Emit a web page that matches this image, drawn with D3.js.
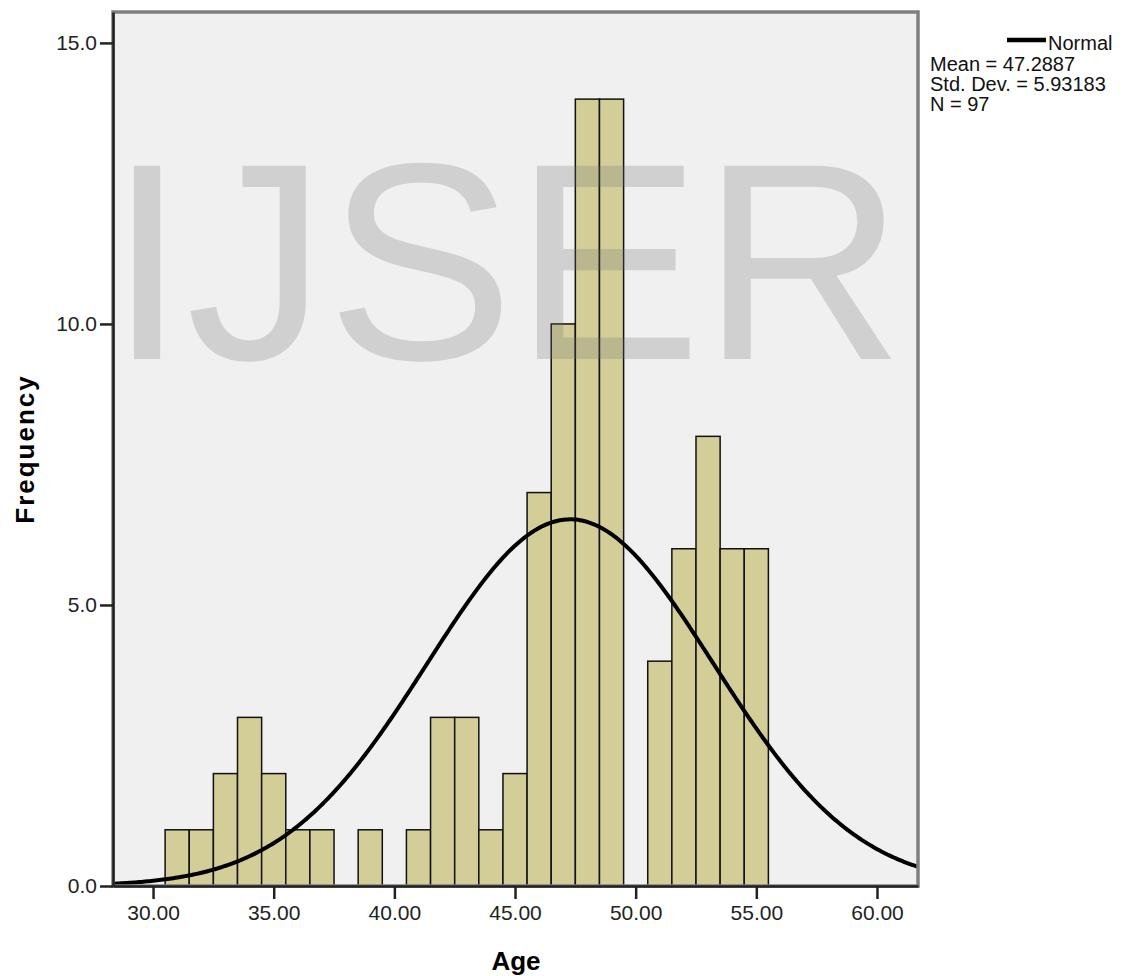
<!DOCTYPE html>
<html>
<head>
<meta charset="utf-8">
<script src="https://cdn.jsdelivr.net/npm/d3@7"></script>
<style>
  body { margin: 0; background: #fff; }
  svg text { font-family: "Liberation Sans", Arial, sans-serif; }
</style>
</head>
<body>
<svg id="chart" width="1133" height="976"></svg>
<script>
var binCenters = [31, 32, 33, 34, 35, 36, 37, 38, 39, 40, 41, 42, 43, 44, 45, 46, 47, 48, 49, 50, 51, 52, 53, 54, 55];
var binCounts  = [1, 1, 2, 3, 2, 1, 1, 0, 1, 0, 1, 3, 3, 1, 2, 7, 10, 14, 14, 0, 4, 6, 8, 6, 6];
var xTicks = [30, 35, 40, 45, 50, 55, 60];
var yTicks = [0, 5, 10, 15];
var mean = 47.2887, sd = 5.93183, n = 97;
var legendLines = ["Mean = 47.2887", "Std. Dev. = 5.93183", "N = 97"];

var svg = d3.select("#chart");
var pLeft = 113, pRight = 918, pTop = 12, pBottom = 886;

var x = d3.scaleLinear().domain([28.34, 61.7]).range([pLeft, pRight]);
var y = d3.scaleLinear().domain([0, 15.55]).range([pBottom, pTop]);

// fond de la zone
svg.append("rect")
  .attr("x", pLeft).attr("y", pTop)
  .attr("width", pRight - pLeft).attr("height", pBottom - pTop)
  .attr("fill", "#f0f0f0");

// barres
svg.append("g").selectAll("rect")
  .data(binCenters.map(function(c, i) { return {c: c, v: binCounts[i]}; }).filter(function(d) { return d.v > 0; }))
  .enter().append("rect")
    .attr("x", function(d) { return x(d.c - 0.5); })
    .attr("y", function(d) { return y(d.v); })
    .attr("width", function(d) { return x(d.c + 0.5) - x(d.c - 0.5); })
    .attr("height", function(d) { return y(0) - y(d.v); })
    .attr("fill", "#d3ce98")
    .attr("stroke", "#111")
    .attr("stroke-width", 1.5);

// courbe normale
var pts = d3.range(0, 401).map(function(i) {
  var xv = 28.34 + (61.7 - 28.34) * i / 400;
  return [xv, n * 1 / (sd * Math.sqrt(2 * Math.PI)) * Math.exp(-0.5 * Math.pow((xv - mean) / sd, 2))];
});
svg.append("path")
  .datum(pts)
  .attr("fill", "none")
  .attr("stroke", "#000")
  .attr("stroke-width", 4)
  .attr("d", d3.line().x(function(d) { return x(d[0]); }).y(function(d) { return y(d[1]); }));

// filigrane
svg.append("text")
  .attr("x", 108).attr("y", 359)
  .attr("font-size", 281)
  .attr("fill", "#707070")
  .attr("fill-opacity", 0.25)
  .text("IJSER");

// cadre
svg.append("rect")
  .attr("x", pLeft).attr("y", pTop)
  .attr("width", pRight - pLeft).attr("height", pBottom - pTop)
  .attr("fill", "none")
  .attr("stroke", "#808080")
  .attr("stroke-width", 3.5);

// axes
var xAxis = svg.append("g")
  .attr("transform", "translate(0," + pBottom + ")")
  .call(d3.axisBottom(x).tickValues(xTicks).tickFormat(d3.format(".2f")).tickSize(13).tickSizeOuter(0).tickPadding(6));
var yAxis = svg.append("g")
  .attr("transform", "translate(" + pLeft + ",0)")
  .call(d3.axisLeft(y).tickValues(yTicks).tickFormat(d3.format(".1f")).tickSize(13).tickSizeOuter(0).tickPadding(3));

[xAxis, yAxis].forEach(function(a) {
  a.select(".domain").attr("stroke", "#222").attr("stroke-width", 2.5);
  a.selectAll(".tick line").attr("stroke", "#222").attr("stroke-width", 2.5);
  a.selectAll(".tick text").attr("font-size", 21).attr("fill", "#222")
    .attr("font-family", "Liberation Sans, Arial, sans-serif");
});

// titres des axes
svg.append("text")
  .attr("x", 516).attr("y", 970)
  .attr("text-anchor", "middle")
  .attr("font-size", 26).attr("font-weight", "bold")
  .text("Age");
svg.append("text")
  .attr("transform", "translate(34,449) rotate(-90)")
  .attr("text-anchor", "middle")
  .attr("font-size", 26).attr("font-weight", "bold")
  .attr("letter-spacing", 2)
  .text("Frequency");

// légende
svg.append("line")
  .attr("x1", 1007).attr("x2", 1046).attr("y1", 40).attr("y2", 40)
  .attr("stroke", "#000").attr("stroke-width", 4.5);
svg.append("text")
  .attr("x", 1048).attr("y", 50)
  .attr("font-size", 20).attr("fill", "#111")
  .text("Normal");
svg.append("g").selectAll("text")
  .data(legendLines)
  .enter().append("text")
    .attr("x", 930)
    .attr("y", function(d, i) { return 71 + i * 20; })
    .attr("font-size", 20).attr("fill", "#111")
    .text(function(d) { return d; });
</script>
</body>
</html>
